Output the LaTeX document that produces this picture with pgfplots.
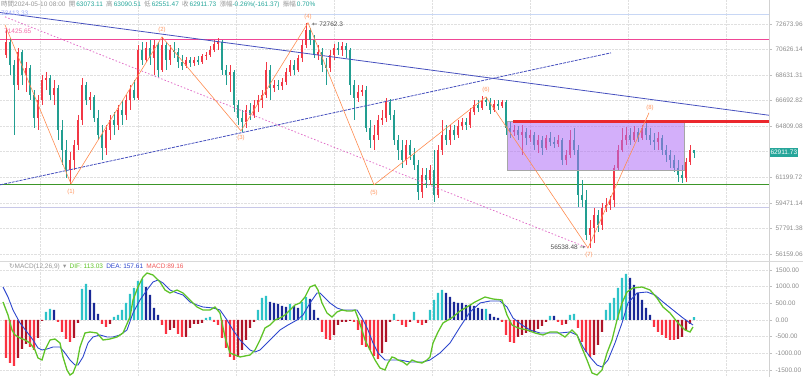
\documentclass[border=0pt]{standalone}
\usepackage{pgfplots}
\pgfplotsset{compat=1.18}
\usepackage{pgfplotstable}
\usepackage{fontspec}
\setmainfont{Liberation Sans}
\newfontfamily\cjk{Noto Sans CJK TC}
\newfontfamily\dejavu{DejaVu Sans}
\definecolor{upc}{RGB}{242,56,70}
\definecolor{dnc}{RGB}{34,158,145}
\definecolor{pinkline}{RGB}{240,70,150}
\definecolor{lightblue}{RGB}{200,215,245}
\definecolor{greenline}{RGB}{60,150,40}
\definecolor{lavline}{RGB}{200,200,232}
\definecolor{redline}{RGB}{235,40,45}
\definecolor{rectfill}{RGB}{175,110,245}
\definecolor{trendblue}{RGB}{70,80,190}
\definecolor{pinkdot}{RGB}{225,110,200}
\definecolor{orangec}{RGB}{255,140,80}
\definecolor{difc}{RGB}{95,195,40}
\definecolor{deac}{RGB}{45,70,205}
\definecolor{hteal}{RGB}{45,195,200}
\definecolor{hnavy}{RGB}{25,40,150}
\definecolor{hred}{RGB}{250,50,65}
\definecolor{hdark}{RGB}{175,20,40}
\definecolor{hdrgray}{RGB}{150,150,150}
\definecolor{tealtext}{RGB}{38,166,154}
\definecolor{macdc}{RGB}{240,90,90}
\newcommand\hl[1]{{\cjk\color{hdrgray}#1}}
\newcommand\hv[1]{{\color{tealtext}#1}}

\pgfplotstableread{
x o h l c
0 70194 72349 69959 71224
1 71224 71543 68638 69411
2 69411 69802 64176 67874
3 67874 70747 67495 70430
4 70430 70588 67874 68638
5 68638 69646 67344 69179
6 69179 69411 66742 67118
7 67118 67495 64682 65410
8 65410 67118 64537 66742
9 66742 68638 66370 68255
10 68255 68870 67495 68408
11 68408 68638 66742 67118
12 67118 68255 66370 67646
13 67646 67874 63818 64537
14 64537 65264 62055 63106
15 63106 63818 61158 61708
16 61708 62965 60748 62403
17 62403 63818 61708 63461
18 63461 65631 63106 65264
19 65264 68408 64899 67874
20 67874 68103 66370 66742
21 66742 67344 65999 66967
22 66967 67118 65118 65410
23 65410 65999 63818 64176
24 64176 64899 62403 63248
25 63248 64899 62754 64537
26 64537 65631 63818 65264
27 65264 65852 64176 64899
28 64899 66370 64537 65999
29 65999 66742 64899 65631
30 65631 67118 65264 66742
31 66742 67874 65999 67495
32 67495 68255 66742 66892
33 66892 70985 66742 70588
34 70588 71224 69411 69802
35 69802 71224 69646 70747
36 70747 71383 69411 69959
37 69959 71383 68638 70985
38 70985 71224 68485 69024
39 69024 71623 68870 70985
40 70985 71224 69024 69802
41 69802 70985 69411 70588
42 70588 71224 69959 70430
43 70430 70747 69179 69646
44 69646 70194 69024 69334
45 69334 70037 69179 69802
46 69802 70037 69256 69567
47 69567 70037 69334 69802
48 69802 70115 69411 69646
49 69646 70272 69489 70115
50 70115 70430 69802 70194
51 70194 70906 70037 70588
52 70588 71383 70430 71064
53 71064 71543 70588 71224
54 71224 71383 68638 69024
55 69024 69411 67874 68638
56 68638 69411 67344 68870
57 68870 69024 65852 66370
58 66370 66742 64899 65410
59 65410 65999 64393 65118
60 65118 66370 64682 65999
61 65999 66519 65264 65631
62 65631 66742 65410 66370
63 66370 67118 65852 66742
64 66742 67495 66147 67118
65 67118 69646 66892 69024
66 69024 69411 66742 67646
67 67646 68255 67344 67874
68 67874 68255 67495 67798
69 67798 68408 67495 68103
70 68103 69179 67874 68870
71 68870 69802 68562 69411
72 69411 69802 68638 69024
73 69024 70194 68870 69959
74 69959 71383 69646 70985
75 70985 72762.3 70747 72187
76 72187 72349 70985 71383
77 71383 71784 69959 70194
78 70194 70985 69802 70430
79 70430 70747 68870 69411
80 69411 69959 67874 69179
81 69179 70588 68870 70194
82 70194 71064 69802 70747
83 70747 71224 70194 70588
84 70588 71224 70115 70906
85 70906 71144 69959 70588
86 70588 70747 67118 67874
87 67874 68255 65264 66892
88 66892 67874 66593 67344
89 67344 67874 67043 67495
90 67495 67798 64393 64682
91 64682 65264 63248 63818
92 63818 64899 63106 64176
93 64176 65631 63818 65264
94 65264 65999 64899 65410
95 65410 66892 65118 66593
96 66593 66817 65264 65631
97 65631 65999 63461 63818
98 63818 64176 62403 63106
99 63106 63818 61846 62403
100 62403 63818 62055 63461
101 63461 63818 62403 62754
102 62754 63248 61708 62055
103 62055 62403 59668 60206
104 60206 61846 59802 61363
105 61363 61846 60476 61021
106 61021 62055 60680 61708
107 61708 63106 59535 60004
108 60004 63461 59802 63106
109 63106 65264 62754 64176
110 64176 64899 63461 63818
111 63818 64899 63461 64537
112 64537 64899 63818 64176
113 64176 65264 63961 64827
114 64827 65410 64537 65118
115 65118 65410 64537 64899
116 64899 66147 64682 65852
117 65852 66742 65631 66370
118 66370 66742 65852 66147
119 66147 67043 65999 66742
120 66742 66967 66296 66593
121 66593 66892 65704 65999
122 65999 66742 65852 66444
123 66444 66742 65999 66296
124 66296 66742 66147 66593
125 66593 66742 64176 64682
126 64682 65118 63961 64393
127 64393 64899 64104 64537
128 64537 64827 63818 64176
129 64176 64899 62754 64393
130 64393 64682 63461 63961
131 63961 64537 63675 64176
132 64176 64393 63106 63461
133 63461 64176 62895 63818
134 63818 64104 62754 63248
135 63248 64176 63106 63961
136 63961 64393 63390 63675
137 63675 64033 63248 63532
138 63532 64176 63319 63818
139 63818 63961 62055 62403
140 62403 63106 62055 62754
141 62754 64537 62543 63818
142 63818 64682 62754 63106
143 63106 63461 59203 60004
144 60004 61021 59203 59668
145 59668 60341 57054 57375
146 57375 58347 56538.48 57826
147 57826 59136 56863 58674
148 58674 59004 57568 58021
149 58021 59469 57697 59136
150 59136 59802 58872 59336
151 59336 59937 59004 59668
152 59668 62055 59203 61846
153 61846 63461 61708 63106
154 63106 64682 62965 63818
155 63818 64754 63461 64176
156 64176 64682 63461 63818
157 63818 64827 63675 64393
158 64393 64682 63675 63961
159 63961 64899 63818 64682
160 64682 65118 63818 64176
161 64176 64682 63461 63818
162 63818 64320 63106 63675
163 63675 64393 63106 63961
164 63961 64176 62754 63106
165 63106 63461 62264 62754
166 62754 63106 61846 62403
167 62403 62754 61570 61846
168 61846 62403 60884 61363
169 61363 62055 60816 61158
170 61158 62543 60884 62264
171 62264 63461 62055 63073.11
172 63073.11 63090.51 62551.47 62911.73
}\candles

\pgfplotstableread{
x m t
0 -1140 2
1 -1290 2
2 -1380 2
3 -1140 3
4 -870 3
5 -720 3
6 -810 2
7 -900 2
8 -540 3
9 -30 3
10 240 0
11 330 0
12 300 1
13 -60 2
14 -360 2
15 -570 2
16 -660 2
17 -540 3
18 -90 3
19 930 0
20 1080 0
21 900 1
22 510 1
23 180 1
24 -120 2
25 -210 2
26 -120 3
27 90 0
28 150 0
29 300 0
30 510 0
31 780 0
32 960 0
33 1170 0
34 1230 0
35 990 1
36 750 1
37 360 1
38 150 1
39 -150 2
40 -420 2
41 -300 3
42 -240 3
43 -420 2
44 -510 2
45 -510 3
46 -240 3
47 -120 3
48 -120 3
49 -90 3
50 60 0
51 90 0
52 -60 2
53 -150 2
54 -540 2
55 -840 2
56 -1110 2
57 -1200 2
58 -1110 3
59 -900 3
60 -600 3
61 -240 3
62 -60 3
63 300 0
64 660 0
65 720 0
66 540 1
67 510 1
68 480 1
69 420 1
70 390 1
71 480 0
72 420 1
73 360 1
74 540 0
75 690 0
76 630 1
77 300 1
78 60 1
79 -360 2
80 -570 2
81 -600 2
82 -450 3
83 -150 3
84 -60 3
85 -60 3
86 -30 3
87 -60 2
88 -300 2
89 -750 2
90 -810 2
91 -900 2
92 -1080 2
93 -1170 2
94 -990 3
95 -660 3
96 -60 3
97 180 0
98 -30 2
99 -150 2
100 -210 2
101 -60 3
102 240 0
103 -90 2
104 -150 2
105 -90 3
106 300 0
107 600 0
108 810 0
109 900 0
110 810 1
111 690 1
112 540 1
113 510 1
114 510 1
115 450 1
116 450 1
117 420 1
118 360 1
119 330 1
120 330 0
121 180 1
122 90 1
123 60 1
124 -60 2
125 -450 2
126 -660 2
127 -690 2
128 -510 3
129 -450 3
130 -390 3
131 -360 3
132 -360 3
133 -270 3
134 -180 3
135 -60 3
136 120 0
137 120 1
138 -60 2
139 -150 2
140 -120 3
141 150 0
142 180 0
143 -240 2
144 -660 2
145 -960 2
146 -1110 2
147 -1050 3
148 -750 3
149 -360 3
150 300 0
151 510 0
152 660 0
153 960 0
154 1260 0
155 1380 0
156 1260 1
157 1050 1
158 810 1
159 600 1
160 360 1
161 150 1
162 -210 2
163 -360 2
164 -450 2
165 -540 2
166 -600 2
167 -600 2
168 -570 3
169 -510 3
170 -300 3
171 -120 3
172 89.16 0
}\hist

\pgfplotstableread{
x v
-0.75 540
0.5 150
1.5 -300
2.25 -450
3.5 -540
4.75 -600
6 -690
7.25 -900
8 -1140
9 -1200
9.75 -900
11 -600
12.25 -570
13.5 -690
14.25 -1110
15.25 -1500
16 -1650
16.75 -1590
17.75 -1290
18.5 -810
19.75 -390
21 -360
22.75 -390
24.25 -600
26 -570
27.75 -510
29.25 -390
31 90
31.75 600
33 990
34.25 1290
35.25 1410
36.75 1350
38.5 1140
39.75 900
41 810
42.75 900
44.25 810
46 600
47.75 390
49.25 300
51 300
52.25 390
53.5 210
54.75 -510
56 -990
57.25 -1050
58.5 -1110
61 -1050
62.25 -900
63.5 -600
64.75 -240
66 -150
67.25 0
68.5 60
69.75 150
71 300
72.25 450
73.5 510
74.75 690
76 990
77.25 1050
78 900
79 510
80.25 210
81.5 90
82.75 240
84 300
85.25 270
86.5 270
87.25 300
88 60
89 -300
89.75 -600
91 -900
92.25 -1200
93.5 -1440
94.75 -1500
95.5 -1290
96.5 -1110
97.25 -1140
98 -1200
99.25 -1260
100.25 -1350
101.5 -1200
102.75 -1260
104 -1290
105.25 -1200
106 -1110
106.75 -690
108 -360
109.25 -90
110.5 0
111.75 90
113.5 270
115.25 390
117.25 540
119.75 690
121.75 630
124 600
125.25 150
126.5 -150
128 -240
130.25 -300
132.25 -390
134.25 -450
136 -360
137.75 -360
139.75 -510
141.5 -300
142.75 -450
144 -840
145.25 -1200
146.5 -1590
147.75 -1650
149 -1500
150.25 -990
151.5 -600
152.75 0
154 510
155.25 840
156.75 960
159 990
161 900
162.75 660
164.25 390
166 210
168 -90
169.75 -300
171 -360
171.75 -210
}\difdata

\pgfplotstableread{
x v
-0.75 990
0.5 690
1.75 300
3.5 -90
5.25 -360
6.75 -600
8 -840
9 -900
10.25 -870
11.75 -810
13.5 -810
14.75 -990
16 -1200
17.25 -1350
18 -1350
19.25 -1110
20.5 -690
21.75 -510
23.5 -450
25.25 -510
26.75 -510
28.5 -450
30.25 -300
31.75 210
33.5 600
35.25 900
36.75 1140
38 1200
39.25 1110
41 900
42.75 810
44.25 750
46 540
47.75 450
49.25 390
51.75 360
53.5 300
55.25 0
56.75 -300
58.5 -600
61 -900
62.25 -960
63.5 -900
65.25 -690
66.75 -510
68.5 -300
70.5 -150
72.75 0
74.25 150
76 510
77.75 810
78.5 810
79.75 660
81 510
82.75 360
84.25 300
86 300
87.75 300
89 60
90.5 -300
91.75 -690
93 -990
94.75 -1200
96.5 -1200
98.5 -1200
101 -1260
104.25 -1260
106 -1200
108.5 -990
111 -690
113.5 -210
116 240
118.5 510
121 570
123.5 570
125.25 390
126.75 60
129 -150
131 -300
133.5 -390
136 -390
138.5 -390
141 -360
142.75 -450
144.25 -810
146 -1110
147.75 -1350
149 -1410
150.5 -1200
152.25 -690
154 -90
155.5 510
157.75 810
160.25 840
162.25 750
164.25 540
166.75 300
169.25 60
171 -90
171.75 -150
}\deadata

\pgfplotsset{
  panel/.style={
    scale only axis, width=769pt,
    xmin=-1.5, xmax=190.75, clip=false,
    axis line style={draw=none},
    xtick={8.5,33,57.5,82,106.5,131,155.5,180}, xticklabels={},
    xtick style={draw=none},
    ytick pos=right, yticklabel pos=right, tick align=outside,
    major tick length=3pt, minor tick length=0pt,
    ytick style={draw=black!25, line width=0.5pt},
    yticklabel style={font=\fontsize{6.5}{7}\selectfont, text=black!45},
    /pgf/number format/assume math mode=true,
    grid=major, major grid style={densely dotted, black!12},
  },
  wick/.style={forget plot, only marks, mark=*, mark size=0pt,
    mark options={draw=none, fill=none},
    error bars/.cd, y dir=both, y explicit, error mark=none,
    error bar style={#1, line width=0.6pt}},
  body/.style={forget plot, only marks, mark=*, mark size=0pt,
    mark options={draw=none, fill=none},
    error bars/.cd, y dir=both, y explicit, error mark=none,
    error bar style={#1, line width=2.6pt}},
}

\begin{document}
\begin{tikzpicture}
\path[use as bounding box] (0pt,0pt) rectangle (803pt,377pt);

\begin{axis}[panel,
  at={(0pt,377pt)}, anchor=north west, height=261pt,
  ymode=log, ymin=55727, ymax=74656,
  ytick={56159.06,57791.38,59471.14,61199.72,62980,64809.08,66692.82,68631.31,70626.14,72673.96},
  yticklabels={56159.06,57791.38,59471.14,61199.72,,64809.08,66692.82,68631.31,70626.14,72673.96},
]
% horizontal levels
\addplot[lightblue, line width=0.8pt] coordinates {(-1.5,73413.33) (190.75,73413.33)};
\addplot[pinkline, line width=1pt] coordinates {(-1.5,71425.65) (190.75,71425.65)};
\addplot[greenline, line width=1pt] coordinates {(-1.5,60680) (190.75,60680)};
\addplot[lavline, line width=1pt] coordinates {(-1.5,59183) (190.75,59183)};
% candles
\addplot[wick=upc] table[x=x, y expr={\thisrow{c}>=\thisrow{o} ? (\thisrow{h}+\thisrow{l})/2 : nan}, y error expr={(\thisrow{h}-\thisrow{l})/2}] {\candles};
\addplot[wick=dnc] table[x=x, y expr={\thisrow{c}<\thisrow{o} ? (\thisrow{h}+\thisrow{l})/2 : nan}, y error expr={(\thisrow{h}-\thisrow{l})/2}] {\candles};
\addplot[body=upc] table[x=x, y expr={\thisrow{c}>=\thisrow{o} ? (\thisrow{o}+\thisrow{c})/2 : nan}, y error expr={(\thisrow{c}-\thisrow{o})/2}] {\candles};
\addplot[body=dnc] table[x=x, y expr={\thisrow{c}<\thisrow{o} ? (\thisrow{o}+\thisrow{c})/2 : nan}, y error expr={(\thisrow{o}-\thisrow{c})/2}] {\candles};
% range box
\addplot[fill=rectfill, fill opacity=0.55, draw=black!35, line width=0.6pt] coordinates {(125.25,65150) (169.5,65150) (169.5,61708) (125.25,61708)} -- cycle;
\addplot[redline, line width=2.2pt] coordinates {(126.75,65150) (190.75,65150)};
% trend lines
\addplot[trendblue, line width=0.8pt] coordinates {(-1.5,73601) (190.75,65601)};
\addplot[trendblue, line width=0.8pt, dash pattern=on 3pt off 1pt] coordinates {(-1.5,60680) (151.25,70351)};
\addplot[pinkdot, line width=0.8pt, dash pattern=on 1.5pt off 2pt] coordinates {(-0.25,73247) (145.5,56538.48)};
% wave count
\addplot[orangec, line width=0.6pt] coordinates {(-0.25,72593) (16.25,60748) (39,71623) (58.75,64465) (75.5,72762.3) (92,60680) (120,66967) (145.5,56538.48) (160.75,65778)};
\begin{scope}[font=\fontsize{6}{7}\selectfont, text=orangec!90]
\node at (axis cs:16.25,60206) {(1)};
\node at (axis cs:39,72187) {(2)};
\node at (axis cs:58.75,63961) {(3)};
\node at (axis cs:75.5,73247) {(4)};
\node at (axis cs:92,60139) {(5)};
\node at (axis cs:120,67495) {(6)};
\node at (axis cs:145.75,56103) {(7)};
\node at (axis cs:161,66147) {(8)};
\end{scope}
\node[anchor=west, inner sep=0, font=\fontsize{6.5}{7}\selectfont, text=black!70] at (axis cs:76.5,72674) {{\dejavu ←} 72762.3};
\node[anchor=east, inner sep=0, font=\fontsize{6.5}{7}\selectfont, text=black!70] at (axis cs:144.8,56609) {56538.48 {\dejavu →}};
\node[anchor=west, inner sep=0, font=\fontsize{6.5}{7}\selectfont, text=pinkline!80] at (axis cs:-0.5,72100) {71425.65};
\node[anchor=west, inner sep=1.3pt, fill=tealtext, text=white, font=\fontsize{6.5}{7}\selectfont, minimum height=9pt] at (axis cs:190.75,62911.73) {62911.73};
\end{axis}

\begin{axis}[panel,
  at={(0pt,115pt)}, anchor=north west, height=115pt,
  ymin=-1710, ymax=1740,
  ytick={-1500,-1000,-500,0,500,1000,1500},
  yticklabels={-1500.00,-1000.00,-500.00,0.00,500.00,1000.00,1500.00},
]
\addplot[ybar, bar width=2.4pt, bar shift=0pt, fill=hteal, draw=none] table[x=x, y expr={\thisrow{t}==0 ? \thisrow{m} : nan}] {\hist};
\addplot[ybar, bar width=2.4pt, bar shift=0pt, fill=hnavy, draw=none] table[x=x, y expr={\thisrow{t}==1 ? \thisrow{m} : nan}] {\hist};
\addplot[ybar, bar width=2.4pt, bar shift=0pt, fill=hred, draw=none] table[x=x, y expr={\thisrow{t}==2 ? \thisrow{m} : nan}] {\hist};
\addplot[ybar, bar width=2.4pt, bar shift=0pt, fill=hdark, draw=none] table[x=x, y expr={\thisrow{t}==3 ? \thisrow{m} : nan}] {\hist};
\addplot[deac, line width=0.9pt] table[x=x, y=v] {\deadata};
\addplot[difc, line width=1.3pt] table[x=x, y=v] {\difdata};
\end{axis}

% frame lines
\draw[black!18, line width=0.6pt] (769pt,0pt) -- (769pt,377pt);
\draw[black!15, line width=0.6pt] (0pt,115.5pt) -- (803pt,115.5pt);

% header texts
\node[anchor=west, inner sep=0, font=\fontsize{6.5}{7}\selectfont, text=lightblue!80!blue] at (1pt,364pt) {73413.33};
\node[anchor=west, inner sep=0, font=\fontsize{6.5}{7}\selectfont] at (1pt,373pt)
 {\hl{時間}{\color{hdrgray}2024-05-10 08:00}\enspace\hl{開}\,\hv{63073.11}\enspace\hl{高}\,\hv{63090.51}\enspace\hl{低}\,\hv{62551.47}\enspace\hl{收}\,\hv{62911.73}\enspace\hl{漲幅}\hv{-0.26\%(-161.37)}\enspace\hl{振幅}\,\hv{0.70\%}};
\node[anchor=west, inner sep=0, font=\fontsize{6.5}{7}\selectfont] at (9pt,110.5pt)
 {{\color{hdrgray}{\dejavu ↻}MACD(12,26,9)\enspace{\dejavu ▾}}\enspace{\color{difc}DIF: 113.03}\enspace{\color{deac}DEA: 157.61}\enspace{\color{macdc}MACD:89.16}};
\end{tikzpicture}
\end{document}
